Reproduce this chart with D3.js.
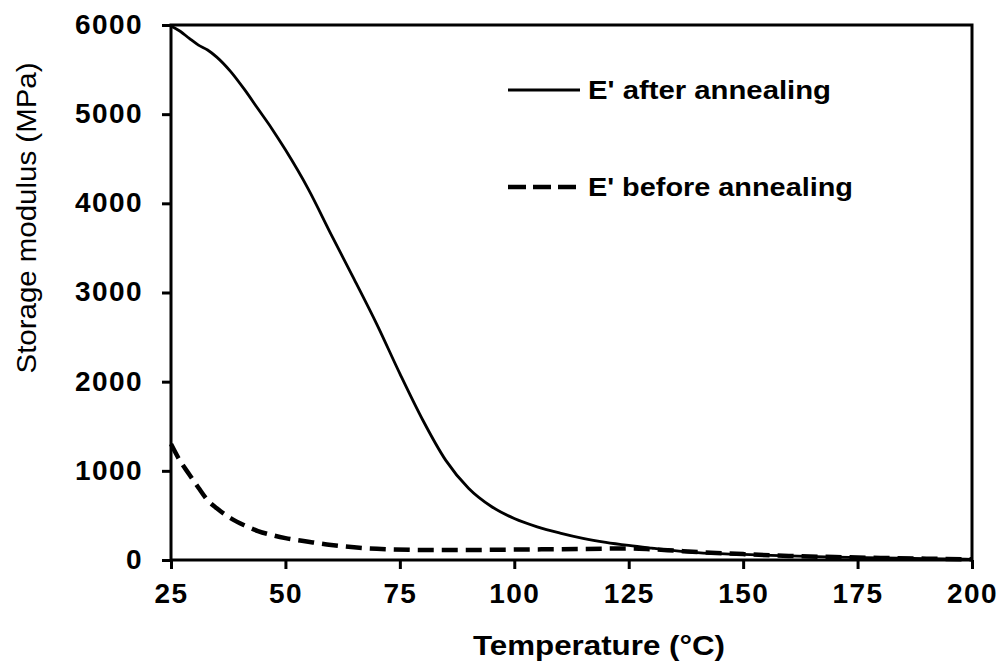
<!DOCTYPE html>
<html>
<head>
<meta charset="utf-8">
<script src="https://cdn.jsdelivr.net/npm/d3@7"></script>
<style>
  body { margin: 0; background: #fff; }
  text { font-family: "Liberation Sans", Arial, sans-serif; fill: #000; }
</style>
</head>
<body>
<div id="chart"></div>
<script>
// temperatures (°C) and storage modulus (MPa)
let afterTemp = [25, 27, 29, 31, 33, 35, 38, 41, 44, 47, 50, 55, 60, 65, 70, 75, 80, 85, 90, 95, 100, 105, 110, 115, 120, 125, 130, 135, 140, 150, 160, 170, 180, 190, 200]
let afterE    = [5990, 5930, 5850, 5775, 5720, 5640, 5480, 5280, 5060, 4840, 4600, 4160, 3650, 3150, 2640, 2090, 1570, 1120, 805, 600, 465, 372, 302, 243, 198, 163, 133, 105, 82, 62, 46, 33, 23, 15, 8]

let beforeTemp = [25, 27, 29, 31, 33, 35, 38, 41, 44, 47, 50, 55, 60, 65, 70, 80, 90, 100, 110, 120, 125, 130, 135, 140, 150, 160, 170, 180, 190, 200]
let beforeE    = [1300, 1110, 960, 810, 670, 580, 470, 390, 325, 280, 245, 205, 168, 142, 126, 113, 112, 117, 121, 127, 130, 120, 105, 90, 66, 46, 33, 23, 15, 8]

let xTicks = [25, 50, 75, 100, 125, 150, 175, 200]
let yTicks = [0, 1000, 2000, 3000, 4000, 5000, 6000]

let svgWidth = 1006,
    svgHeight = 664

let margin = { top: 25, right: 34, bottom: 104, left: 171 }
let width = svgWidth - margin.left - margin.right
let height = svgHeight - margin.top - margin.bottom

let svg = d3.select("#chart")
  .append("svg")
  .attr("width", svgWidth)
  .attr("height", svgHeight)

let chartGroup = svg.append("g")
  .attr("transform", `translate(${margin.left}, ${margin.top})`)

let x = d3.scaleLinear().domain([25, 200]).range([0, width])
let y = d3.scaleLinear().domain([0, 6000]).range([height, 0])

// axes
let bottomAxis = d3.axisBottom(x).tickValues(xTicks).tickFormat(d3.format("d")).tickSize(9).tickPadding(14)
let leftAxis = d3.axisLeft(y).tickValues(yTicks).tickFormat(d3.format("d")).tickSize(9).tickPadding(19)

let xAxis = chartGroup.append("g")
  .attr("transform", `translate(0, ${height})`)
  .call(bottomAxis)
let yAxis = chartGroup.append("g").call(leftAxis)

;[xAxis, yAxis].forEach(a => {
  a.select(".domain").remove()
  a.selectAll(".tick line").attr("stroke", "#000").attr("stroke-width", 3)
  a.selectAll(".tick text")
    .attr("font-size", 28)
    .attr("font-weight", "bold")
    .attr("letter-spacing", 1.4)
    .attr("font-family", "Liberation Sans, Arial, sans-serif")
    .attr("fill", "#000")
})
yAxis.selectAll(".tick text").attr("dy", "0.30em")

// plot frame
chartGroup.append("rect")
  .attr("width", width)
  .attr("height", height)
  .attr("fill", "none")
  .attr("stroke", "#000")
  .attr("stroke-width", 3)

// lines
let line = d3.line()
  .x(d => x(d[0]))
  .y(d => y(d[1]))
  .curve(d3.curveMonotoneX)

chartGroup.append("path")
  .datum(beforeTemp.map((t, i) => [t, beforeE[i]]))
  .attr("d", line)
  .attr("fill", "none")
  .attr("stroke", "#000")
  .attr("stroke-width", 4.5)
  .attr("stroke-dasharray", "16,8")

chartGroup.append("path")
  .datum(afterTemp.map((t, i) => [t, afterE[i]]))
  .attr("d", line)
  .attr("fill", "none")
  .attr("stroke", "#000")
  .attr("stroke-width", 2.8)

// legend
svg.append("line")
  .attr("x1", 508).attr("x2", 580).attr("y1", 90).attr("y2", 90)
  .attr("stroke", "#000").attr("stroke-width", 3)
svg.append("text")
  .attr("x", 588).attr("y", 99)
  .attr("font-size", 25).attr("font-weight", "bold")
  .attr("textLength", 243).attr("lengthAdjust", "spacingAndGlyphs")
  .text("E' after annealing")

svg.append("line")
  .attr("x1", 508).attr("x2", 577).attr("y1", 187).attr("y2", 187)
  .attr("stroke", "#000").attr("stroke-width", 4.5)
  .attr("stroke-dasharray", "18,7")
svg.append("text")
  .attr("x", 588).attr("y", 196)
  .attr("font-size", 25).attr("font-weight", "bold")
  .attr("textLength", 265).attr("lengthAdjust", "spacingAndGlyphs")
  .text("E' before annealing")

// axis titles
svg.append("text")
  .attr("x", 599).attr("y", 655)
  .attr("text-anchor", "middle")
  .attr("font-size", 28).attr("font-weight", "bold")
  .attr("textLength", 252).attr("lengthAdjust", "spacingAndGlyphs")
  .text("Temperature (°C)")

svg.append("text")
  .attr("transform", "translate(36, 218) rotate(-90)")
  .attr("text-anchor", "middle")
  .attr("font-size", 27)
  .attr("textLength", 311).attr("lengthAdjust", "spacingAndGlyphs")
  .text("Storage modulus (MPa)")
</script>
</body>
</html>
